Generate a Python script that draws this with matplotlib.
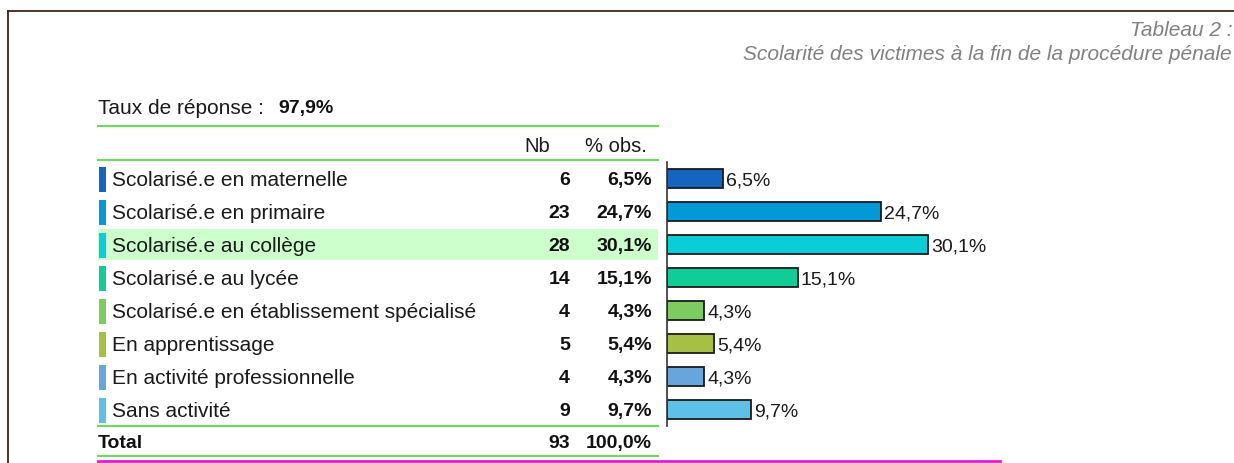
import matplotlib.pyplot as plt
from matplotlib.patches import Rectangle

plt.rcParams['font.family'] = ['Liberation Sans', 'DejaVu Sans']

categories = ["Scolarisé.e en maternelle", "Scolarisé.e en primaire", "Scolarisé.e au collège",
              "Scolarisé.e au lycée", "Scolarisé.e en établissement spécialisé", "En apprentissage",
              "En activité professionnelle", "Sans activité"]
nb = [6, 23, 28, 14, 4, 5, 4, 9]
pct = [6.5, 24.7, 30.1, 15.1, 4.3, 5.4, 4.3, 9.7]
colors = ["#1565c0", "#0399d6", "#0acdd7", "#12cc97", "#7dcc62", "#a5c045", "#68a5da", "#5ec0e4"]
total_nb = 93
total_pct = "100,0%"
taux = "97,9%"

W, H = 1234, 464
fs_txt = 15
fs_num = 14


def fmt(v):
    return f"{v:.1f}".replace(".", ",") + "%"


fig = plt.figure(figsize=(W / 100, H / 100), dpi=100)

# fond en coordonnees pixels
bg = fig.add_axes([0, 0, 1, 1])
bg.set_xlim(0, W)
bg.set_ylim(H, 0)
bg.axis("off")

# cadre
bg.plot([8, W], [12, 12], color="#3c2415", lw=1.3)
bg.plot([8, 8], [12, H], color="#3c2415", lw=1.3)

bg.text(1232, 31, "Tableau 2 :", ha="right", va="center", color="#808080", style="italic", fontsize=fs_txt)
bg.text(1232, 54, "Scolarité des victimes à la fin de la procédure pénale", ha="right", va="center",
        color="#808080", style="italic", fontsize=fs_txt)

bg.text(98, 109, "Taux de réponse :", ha="left", va="center", color="#1a1a1a", fontsize=fs_txt)
bg.text(278, 109, taux, ha="left", va="center", color="#111111", fontsize=fs_num, fontweight="bold")

green = "#6ddc5a"
x_l, x_r = 98, 658
for yy in [127, 161, 427, 457]:
    bg.plot([x_l, x_r], [yy, yy], color=green, lw=1.5)
bg.plot([98, 1000], [462, 462], color="#e619d2", lw=2)

bg.text(550, 147, "Nb", ha="right", va="center", color="#1a1a1a", fontsize=14.5)
bg.text(647, 147, "% obs.", ha="right", va="center", color="#1a1a1a", fontsize=14.5)

row0, step = 179.5, 33
for i, (cat, n, p, c) in enumerate(zip(categories, nb, pct, colors)):
    yc = row0 + step * i
    if i == 2:
        bg.add_patch(Rectangle((x_l, yc - 15.5), x_r - x_l, 31, color="#ccffcc", lw=0, zorder=0))
    bg.add_patch(Rectangle((99, yc - 12), 7, 25, color=c, lw=0))
    bg.text(112, yc + 1.5, cat, ha="left", va="center", color="#1a1a1a", fontsize=fs_txt)
    bg.text(570, yc + 1.5, str(n), ha="right", va="center", color="#111111", fontsize=fs_num, fontweight="bold")
    bg.text(652, yc + 1.5, fmt(p), ha="right", va="center", color="#111111", fontsize=fs_num, fontweight="bold")

bg.text(98, 444, "Total", ha="left", va="center", color="#111111", fontsize=fs_num, fontweight="bold")
bg.text(570, 444, str(total_nb), ha="right", va="center", color="#111111", fontsize=fs_num, fontweight="bold")
bg.text(652, 444, total_pct, ha="right", va="center", color="#111111", fontsize=fs_num, fontweight="bold")

# barres
px_per_pct = 8.67
x_max = 40
ax = fig.add_axes([667 / W, 1 - 427 / H, x_max * px_per_pct / W, (427 - 163) / H])
ax.set_facecolor("none")
ypos = list(range(len(pct)))
ax.barh(ypos, pct, height=0.55, color=colors, edgecolor="#1a1a1a", linewidth=1.3)
for y, p in zip(ypos, pct):
    ax.text(p + 0.35, y + 0.05, fmt(p), ha="left", va="center", color="#1a1a1a", fontsize=fs_num)
ax.set_xlim(0, x_max)
ax.set_ylim(len(pct) - 0.5, -0.5)
for s in ["top", "right", "bottom"]:
    ax.spines[s].set_visible(False)
ax.spines["left"].set_color("#333333")
ax.spines["left"].set_linewidth(1.2)
ax.set_xticks([])
ax.set_yticks([])

fig.savefig("out.png", dpi=100)
